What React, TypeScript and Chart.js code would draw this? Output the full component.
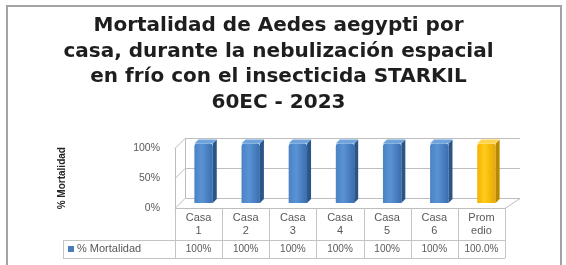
import React, { useEffect, useRef } from "react";
import { Chart, registerables } from "chart.js";

Chart.register(...registerables);

const titleLines = [
  "Mortalidad de Aedes aegypti por",
  "casa, durante la nebulización espacial",
  "en frío con el insecticida STARKIL",
  "60EC - 2023",
];
const categories = [
  ["Casa", "1"],
  ["Casa", "2"],
  ["Casa", "3"],
  ["Casa", "4"],
  ["Casa", "5"],
  ["Casa", "6"],
  ["Prom", "edio"],
];
const seriesName = "% Mortalidad";
const mortalidad = [100, 100, 100, 100, 100, 100, 100];
const tableValues = ["100%", "100%", "100%", "100%", "100%", "100%", "100.0%"];
const yTickValues = [0, 50, 100];
const yAxisTitle = "% Mortalidad";

const W = 566;
const H = 265;
const WALL_D = 10;
const BAR_SHIFT = 5;
const BAR_D = 4;
const BAR_PCT = 0.39;
const TEXT_FONT = "'Liberation Sans', Arial, sans-serif";
const TITLE_FONT = "'DejaVu Sans', 'Open Sans', sans-serif";

function isAvg(i: number) {
  return i === mortalidad.length - 1;
}

const chart3dPlugin = {
  id: "chart3d",
  beforeDatasetsDraw(chart: any) {
    const { ctx, chartArea: a, scales } = chart;
    const y = scales.y;
    ctx.save();
    ctx.strokeStyle = "#bdbdbd";
    ctx.lineWidth = 1;
    for (const v of yTickValues) {
      const py = Math.round(y.getPixelForValue(v)) + 0.5;
      ctx.beginPath();
      ctx.moveTo(a.left, py);
      ctx.lineTo(a.left + WALL_D, py - WALL_D);
      ctx.lineTo(a.right + WALL_D + 5, py - WALL_D);
      ctx.stroke();
    }
    const top = Math.round(y.getPixelForValue(100));
    const bot = Math.round(y.getPixelForValue(0));
    ctx.beginPath();
    ctx.moveTo(Math.round(a.left) + 0.5, top);
    ctx.lineTo(Math.round(a.left) + 0.5, bot);
    ctx.moveTo(Math.round(a.left + WALL_D) + 0.5, top - WALL_D);
    ctx.lineTo(Math.round(a.left + WALL_D) + 0.5, bot - WALL_D);
    ctx.stroke();
    ctx.beginPath();
    ctx.moveTo(a.left, bot + 0.5);
    ctx.lineTo(a.right, bot + 0.5);
    ctx.lineTo(a.right + WALL_D + 5, bot - WALL_D + 0.5);
    ctx.stroke();
    ctx.restore();

    ctx.save();
    ctx.translate(BAR_SHIFT, -BAR_SHIFT);
  },
  afterDatasetsDraw(chart: any) {
    const { ctx } = chart;
    const meta = chart.getDatasetMeta(0);
    meta.data.forEach((bar: any, i: number) => {
      const { x, y, base, width } = bar.getProps(["x", "y", "base", "width"], true);
      const xl = x - width / 2;
      const xr = x + width / 2;
      ctx.beginPath();
      ctx.moveTo(xr, y);
      ctx.lineTo(xr + BAR_D, y - BAR_D);
      ctx.lineTo(xr + BAR_D, base - BAR_D);
      ctx.lineTo(xr, base);
      ctx.closePath();
      ctx.fillStyle = isAvg(i) ? "#b98a00" : "#2a5588";
      ctx.fill();
      ctx.beginPath();
      ctx.moveTo(xl, y);
      ctx.lineTo(xr, y);
      ctx.lineTo(xr + BAR_D, y - BAR_D);
      ctx.lineTo(xl + BAR_D, y - BAR_D);
      ctx.closePath();
      ctx.fillStyle = isAvg(i) ? "#ffd450" : "#6fa3dc";
      ctx.fill();
    });
    ctx.restore();
  },
};

const tablePlugin = {
  id: "dataTable",
  afterDraw(chart: any) {
    const { ctx, chartArea: a, scales } = chart;
    const x = scales.x;
    const n = categories.length;
    const colW = (a.right - a.left) / n;
    const rowTop = a.bottom + 32;
    const rowBot = a.bottom + 50;
    const legLeft = 63;
    ctx.save();
    ctx.strokeStyle = "#c4c4c4";
    ctx.lineWidth = 1;
    ctx.beginPath();
    for (let i = 0; i <= n; i++) {
      const px = Math.round(x.getPixelForValue(0) - colW / 2 + i * colW) + 0.5;
      ctx.moveTo(px, a.bottom);
      ctx.lineTo(px, rowBot);
    }
    ctx.moveTo(legLeft, Math.round(rowTop) + 0.5);
    ctx.lineTo(a.right, Math.round(rowTop) + 0.5);
    ctx.moveTo(legLeft, Math.round(rowBot) + 0.5);
    ctx.lineTo(a.right, Math.round(rowBot) + 0.5);
    ctx.moveTo(legLeft + 0.5, rowTop);
    ctx.lineTo(legLeft + 0.5, rowBot);
    ctx.stroke();

    const cy = (rowTop + rowBot) / 2;
    ctx.font = `10px ${TEXT_FONT}`;
    ctx.fillStyle = "#595959";
    ctx.textBaseline = "middle";
    ctx.textAlign = "center";
    tableValues.forEach((t, i) => {
      ctx.fillText(t, x.getPixelForValue(i), cy);
    });
    ctx.fillStyle = "#4a7ebb";
    ctx.fillRect(legLeft + 5, cy - 3, 6, 6);
    ctx.fillStyle = "#595959";
    ctx.textAlign = "left";
    ctx.font = `11px ${TEXT_FONT}`;
    ctx.fillText(seriesName, legLeft + 14, cy);

    ctx.strokeStyle = "#a3a3a3";
    ctx.lineWidth = 2;
    ctx.strokeRect(7, 6, W - 12, H + 10);
    ctx.restore();
  },
};

function barColor(c: any) {
  const chart = c.chart;
  const i = c.dataIndex;
  const xs = chart.scales && chart.scales.x;
  const a = chart.chartArea;
  const avg = isAvg(i);
  if (!xs || !a) return avg ? "#ffc000" : "#4a7ebb";
  const colW = (a.right - a.left) / categories.length;
  const w = colW * BAR_PCT;
  const cx = xs.getPixelForValue(i);
  const g = chart.ctx.createLinearGradient(cx - w / 2, 0, cx + w / 2, 0);
  if (avg) {
    g.addColorStop(0, "#f2b400");
    g.addColorStop(0.4, "#ffcc1a");
    g.addColorStop(1, "#e6a800");
  } else {
    g.addColorStop(0, "#4a82c4");
    g.addColorStop(0.4, "#5a93d4");
    g.addColorStop(1, "#3b6eae");
  }
  return g;
}

export default function App() {
  const ref = useRef<HTMLCanvasElement | null>(null);
  useEffect(() => {
    if (!ref.current) return;
    const chart = new Chart(ref.current, {
      type: "bar",
      data: {
        labels: categories as any,
        datasets: [
          {
            label: seriesName,
            data: mortalidad,
            backgroundColor: barColor as any,
            borderWidth: 0,
            borderRadius: { topLeft: 3, topRight: 3, bottomLeft: 0, bottomRight: 0 },
            borderSkipped: false,
            categoryPercentage: 1,
            barPercentage: BAR_PCT,
            clip: false as any,
          },
        ],
      },
      options: {
        responsive: false,
        animation: false,
        devicePixelRatio: 1,
        layout: { padding: { left: 52, right: 61, top: 0, bottom: 0 } },
        plugins: {
          legend: { display: false },
          tooltip: { enabled: false },
          title: {
            display: true,
            text: titleLines,
            color: "#1e1e1e",
            font: { family: TITLE_FONT, size: 20, weight: "bold", lineHeight: 1.28 },
            padding: { top: 13, bottom: 33 },
          },
        },
        scales: {
          x: {
            grid: { display: false, drawTicks: false },
            border: { display: false },
            ticks: {
              color: "#595959",
              font: { family: TEXT_FONT, size: 11, lineHeight: 1.15 },
              padding: 4,
              maxRotation: 0,
              autoSkip: false,
            },
            afterFit: (s: any) => {
              s.height = 57;
            },
          },
          y: {
            min: 0,
            max: 100,
            afterBuildTicks: (s: any) => {
              s.ticks = yTickValues.map((v) => ({ value: v }));
            },
            grid: { display: false, drawTicks: false },
            border: { display: false },
            ticks: {
              color: "#595959",
              font: { family: TEXT_FONT, size: 10.5 },
              padding: 15,
              callback: (v: any) => v + "%",
            },
            title: {
              display: true,
              text: yAxisTitle,
              color: "#262626",
              font: { family: TEXT_FONT, size: 10, weight: "bold", lineHeight: 1.2 },
              padding: { top: 4, bottom: 0 },
            },
            afterFit: (s: any) => {
              s.width = 175 - 52;
            },
          },
        },
      },
      plugins: [chart3dPlugin, tablePlugin],
    });
    return () => chart.destroy();
  }, []);
  return (
    <div style={{ position: "absolute", left: 0, top: 0 }}>
      <canvas ref={ref} width={W} height={H} style={{ display: "block" }} />
    </div>
  );
}
